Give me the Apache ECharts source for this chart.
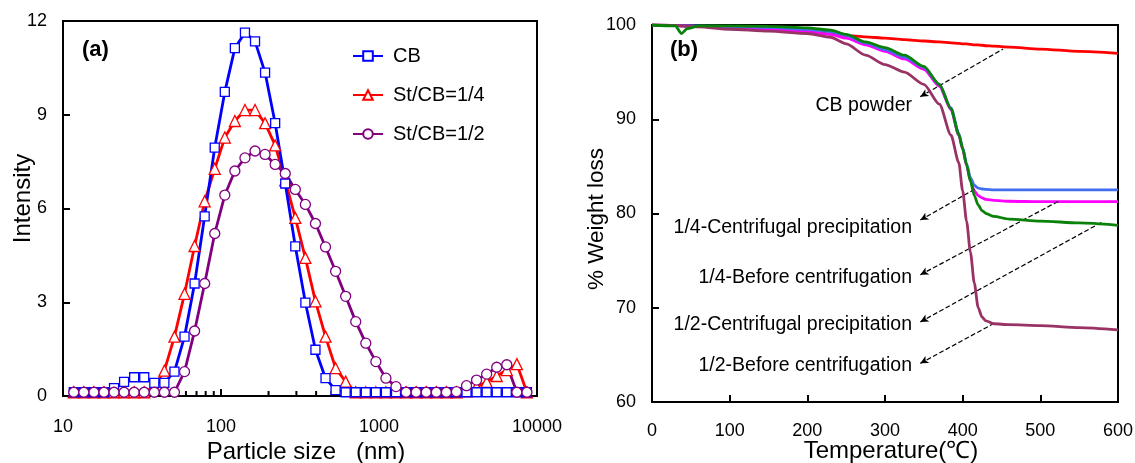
<!DOCTYPE html>
<html>
<head>
<meta charset="utf-8">
<script src="https://cdn.jsdelivr.net/npm/echarts@6/dist/echarts.min.js"></script>
<style>
html, body { margin: 0; padding: 0; background: #fff; }
#main { width: 1135px; height: 463px; }
</style>
</head>
<body>
<div id="main"></div>
<script>
// (a) 粒径分布
var sizes = [11.7, 13.54, 15.69, 18.17, 21.04, 24.36, 28.21, 32.67, 37.84, 43.82, 50.75, 58.77, 68.06, 78.82, 91.28,
  105.7, 122.4, 141.8, 164.2, 190.1, 220.2, 255.0, 295.3, 342.0, 396.1, 458.7, 531.2, 615.1, 712.4, 825.0, 955.4,
  1106, 1281, 1484, 1718, 1990, 2305, 2669, 3091, 3580, 4145, 4801, 5560, 6439, 7456, 8635]
var cb = [0.12, 0.12, 0.12, 0.12, 0.25, 0.45, 0.6, 0.6, 0.42, 0.42, 0.78, 1.9, 3.6, 5.75, 7.95,
  9.73, 11.13, 11.63, 11.35, 10.35, 8.73, 6.8, 4.79, 2.99, 1.48, 0.57, 0.19, 0.12, 0.12, 0.12, 0.12,
  0.12, 0.12, 0.12, 0.12, 0.12, 0.12, 0.12, 0.12, 0.12, 0.12, 0.12, 0.12, 0.12, 0.12, 0.12]
var st14 = [0.12, 0.12, 0.12, 0.12, 0.12, 0.12, 0.12, 0.12, 0.3, 0.81, 1.9, 3.27, 4.8, 6.23, 7.27,
  8.27, 8.8, 9.15, 9.15, 8.73, 8.02, 6.9, 5.7, 4.42, 3.03, 1.9, 0.89, 0.46, 0.12, 0.12, 0.12,
  0.12, 0.12, 0.12, 0.12, 0.12, 0.12, 0.12, 0.12, 0.15, 0.3, 0.45, 0.64, 0.83, 1.02, 0.12]
var st12 = [0.12, 0.12, 0.12, 0.12, 0.12, 0.12, 0.12, 0.12, 0.12, 0.12, 0.12, 0.78, 2.08, 3.6, 5.2,
  6.43, 7.2, 7.62, 7.84, 7.73, 7.41, 7.12, 6.61, 6.13, 5.52, 4.77, 3.99, 3.19, 2.38, 1.69, 1.1,
  0.57, 0.3, 0.12, 0.12, 0.12, 0.12, 0.12, 0.14, 0.33, 0.51, 0.7, 0.92, 1.0, 0.12, 0.12]
var sizeMinorTicks = [20, 30, 40, 50, 60, 70, 80, 90, 200, 300, 400, 500, 600, 700, 800, 900,
  2000, 3000, 4000, 5000, 6000, 7000, 8000, 9000]

// (b) 热重曲线
var temps = [0, 30, 38, 45, 60, 100, 150, 200, 230, 250, 275, 300, 325, 350, 370, 385, 395, 400, 405, 410,
  415, 420, 425, 430, 440, 460, 500, 550, 600]
var cbPowder = [100, 99.95, 99.9, 99.9, 99.85, 99.7, 99.5, 99.25, 99.05, 98.9, 98.75, 98.6, 98.45, 98.3, 98.2,
  98.1, 98.05, 98.0, 98.0, 97.95, 97.9, 97.9, 97.85, 97.8, 97.75, 97.65, 97.45, 97.2, 97.0]
var cp14 = [100, 99.95, 99.9, 99.9, 99.9, 99.85, 99.75, 99.55, 99.3, 98.9, 98.1, 97.4, 96.6, 95.5, 93.7,
  91.2, 88.5, 87.0, 85.3, 83.8, 83.0, 82.7, 82.6, 82.55, 82.5, 82.5, 82.5, 82.5, 82.5]
var bc14 = [100, 99.95, 99.9, 99.9, 99.85, 99.8, 99.6, 99.3, 99.0, 98.6, 97.9, 97.2, 96.4, 95.3, 93.5,
  91.0, 88.3, 86.8, 85.1, 83.5, 82.4, 81.9, 81.65, 81.5, 81.4, 81.3, 81.25, 81.25, 81.25]
var cp12 = [100, 99.9, 99.1, 99.6, 99.9, 99.9, 99.85, 99.7, 99.45, 99.0, 98.2, 97.6, 96.8, 95.6, 93.7,
  91.1, 88.4, 86.9, 85.2, 83.4, 81.9, 80.9, 80.3, 80.0, 79.7, 79.4, 79.2, 79.0, 78.75]
var bc12 = [100, 99.95, 99.9, 99.85, 99.8, 99.55, 99.35, 99.1, 98.7, 98.0, 96.8, 95.8, 95.0, 93.7, 91.6,
  88.3, 85.4, 82.4, 79.2, 75.9, 72.6, 70.0, 69.0, 68.6, 68.3, 68.2, 68.1, 67.9, 67.65]

function pairs (xs, ys) {
  return xs.map(function (x, i) { return [x, ys[i]] })
}

var font = 'Liberation Sans, Arial, sans-serif'
var axisLine = { lineStyle: { color: '#000', width: 2 } }
var axisTick = { inside: true, length: 7, lineStyle: { color: '#000', width: 2 } }
var label = { fontSize: 18, color: '#000', fontFamily: font }
var nameStyle = { fontSize: 24, color: '#000', fontFamily: font }

function dls (name, data, color, symbol, size) {
  return {
    name: name,
    type: 'line',
    xAxisIndex: 0,
    yAxisIndex: 0,
    data: pairs(sizes, data),
    symbol: symbol,
    symbolSize: size,
    showAllSymbol: true,
    lineStyle: { color: color, width: 2.8 },
    itemStyle: { color: '#fff', borderColor: color, borderWidth: 1.3 },
    z: 3
  }
}

function tga (data, color, z) {
  return {
    type: 'line',
    xAxisIndex: 1,
    yAxisIndex: 1,
    data: pairs(temps, data),
    symbol: 'none',
    smooth: 0.25,
    smoothMonotone: 'x',
    lineStyle: { color: color, width: 2.8 },
    z: z
  }
}

function note (text, top) {
  return { type: 'text', right: 1135 - 912, top: top, style: { text: text, font: '19.5px ' + font, fill: '#000' } }
}

var dash = { type: 'dashed', color: '#000', width: 1.2 }

var myChart = echarts.init(document.getElementById('main'))
myChart.setOption({
  animation: false,
  textStyle: { fontFamily: font },
  grid: [
    { left: 63, top: 21, width: 474, height: 375, show: true, borderColor: '#000', borderWidth: 2, containLabel: false, outerBoundsMode: 'none' },
    { left: 652, top: 25, width: 466, height: 377, show: true, borderColor: '#000', borderWidth: 2, containLabel: false, outerBoundsMode: 'none' }
  ],
  legend: {
    data: ['CB', 'St/CB=1/4', 'St/CB=1/2'],
    orient: 'vertical',
    left: 347,
    top: 41,
    itemWidth: 30,
    itemHeight: 12,
    itemGap: 19,
    textStyle: { fontSize: 20, color: '#000', fontFamily: font, padding: [0, 0, 0, 5] }
  },
  xAxis: [
    {
      gridIndex: 0, type: 'log', logBase: 10, min: 10, max: 10000,
      axisLine: axisLine, axisTick: axisTick, splitLine: { show: false },
      axisLabel: Object.assign({ margin: 22, formatter: function (v) { return String(v) } }, label),
      name: 'Particle size   (nm)', nameLocation: 'middle', nameGap: 44, nameMoveOverlap: false,
      nameTextStyle: Object.assign({}, nameStyle, { padding: [0, 0, 0, 12] })
    },
    {
      gridIndex: 1, type: 'value', min: 0, max: 600, interval: 100,
      axisLine: axisLine, axisTick: axisTick, splitLine: { show: false },
      axisLabel: Object.assign({ margin: 20 }, label),
      name: 'Temperature(℃)', nameLocation: 'middle', nameGap: 37, nameMoveOverlap: false,
      nameTextStyle: Object.assign({}, nameStyle, { padding: [0, 0, 0, 12] })
    }
  ],
  yAxis: [
    {
      gridIndex: 0, type: 'value', min: 0, max: 12, interval: 3,
      axisLine: axisLine, axisTick: axisTick, splitLine: { show: false },
      axisLabel: Object.assign({ margin: 16 }, label),
      name: 'Intensity', nameLocation: 'middle', nameGap: 28, nameMoveOverlap: false,
      nameTextStyle: Object.assign({}, nameStyle, { padding: [0, 0, 0, 20] })
    },
    {
      gridIndex: 1, type: 'value', min: 60, max: 100, interval: 10,
      axisLine: axisLine, axisTick: axisTick, splitLine: { show: false },
      axisLabel: Object.assign({ margin: 16 }, label),
      name: '% Weight loss', nameLocation: 'middle', nameGap: 44, nameMoveOverlap: false,
      nameTextStyle: Object.assign({}, nameStyle, { fontSize: 22.5, padding: [0, 11, 0, 0] })
    }
  ],
  graphic: [
    { type: 'text', left: 82, top: 39, style: { text: '(a)', font: 'bold 22px ' + font, fill: '#000' } },
    { type: 'text', left: 670, top: 39, style: { text: '(b)', font: 'bold 22px ' + font, fill: '#000' } },
    note('CB powder', 96),
    note('1/4-Centrifugal precipitation', 218),
    note('1/4-Before centrifugation', 268),
    note('1/2-Centrifugal precipitation', 315),
    note('1/2-Before centrifugation', 356)
  ],
  series: [
    {
      type: 'custom',
      xAxisIndex: 0,
      yAxisIndex: 0,
      silent: true,
      z: 1,
      data: sizeMinorTicks.map(function (v) { return [v, 0] }),
      renderItem: function (params, api) {
        var p = api.coord([api.value(0), 0])
        return {
          type: 'line',
          shape: { x1: p[0], y1: p[1], x2: p[0], y2: p[1] - 5 },
          style: { stroke: '#000', lineWidth: 2 }
        }
      }
    },
    dls('St/CB=1/4', st14, '#ff0000', 'triangle', 11),
    dls('CB', cb, '#0000ff', 'rect', 9),
    dls('St/CB=1/2', st12, '#800080', 'circle', 10),
    Object.assign(tga(cbPowder, '#ff0000', 2), {
      markLine: {
        silent: true,
        symbol: ['arrow', 'none'],
        symbolSize: [6, 8],
        label: { show: false },
        lineStyle: dash,
        data: [
          [{ coord: [345.5, 92.4] }, { coord: [452, 97.45] }],
          [{ coord: [345.5, 79.3] }, { coord: [416, 82.6] }],
          [{ coord: [345.5, 73.5] }, { coord: [525.6, 81.4] }],
          [{ coord: [345.5, 68.5] }, { coord: [579.6, 79.1] }],
          [{ coord: [345.5, 64.1] }, { coord: [439.4, 68.3] }]
        ]
      }
    }),
    tga(bc14, '#ff00ff', 3),
    tga(cp14, '#3f6ff0', 4),
    tga(bc12, '#993366', 5),
    tga(cp12, '#0a820a', 6)
  ]
})
</script>
</body>
</html>
